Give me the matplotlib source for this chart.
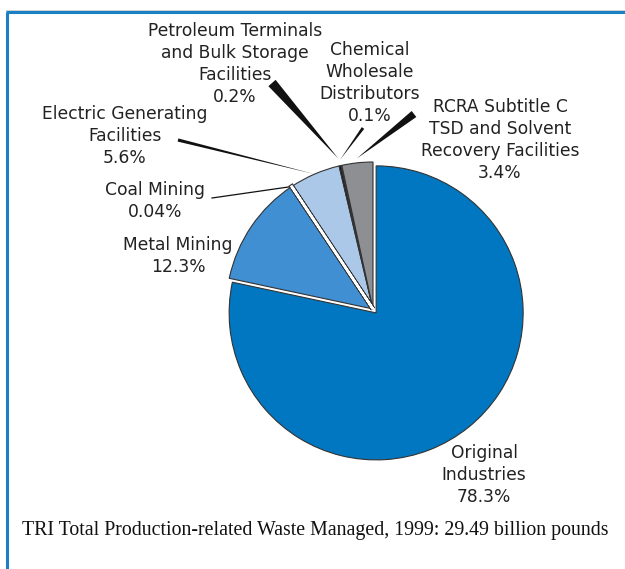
import numpy as np
import matplotlib.pyplot as plt
from matplotlib.patches import Polygon
import matplotlib.patheffects as pe

# データ
names = ['Original\nIndustries', 'Metal Mining', 'Coal Mining',
         'Electric Generating\nFacilities',
         'Petroleum Terminals\nand Bulk Storage\nFacilities',
         'Chemical\nWholesale\nDistributors',
         'RCRA Subtitle C\nTSD and Solvent\nRecovery Facilities']
share = [78.3, 12.3, 0.04, 5.6, 0.2, 0.1, 3.4]
caption = 'TRI Total Production-related Waste Managed, 1999: 29.49 billion pounds'

colors = ['#0077c0', '#3f8fd2', '#ffffff', '#abc8e8', '#111111', '#3a3a3a', '#8d8f93']

W, H = 625, 569
fig = plt.figure(figsize=(W / 100, H / 100), dpi=100)
ax = fig.add_axes([0, 0, 1, 1])

cx, cy, r = 373, H - 309, 147
wedges, _ = ax.pie(share, colors=colors, startangle=90, counterclock=False,
                   center=(cx, cy), radius=r, explode=[5, 0, 0, 0, 0, 0, 0],
                   wedgeprops=dict(edgecolor='#333333', linewidth=0.8))
ax.set_xlim(0, W)
ax.set_ylim(0, H)
ax.axis('off')

# 極小スライスは白い隙間として見せる
wedges[2].set_zorder(5)
wedges[2].set_path_effects([pe.Stroke(linewidth=3.4, foreground='#333333'),
                            pe.Stroke(linewidth=1.8, foreground='white')])

# ラベル位置 (px, 上から)
label_pos = [(484, 475), (178, 256), (155, 201), (125, 136),
             (235, 64), (370, 83), (500, 140)]
for name, v, (x, y) in zip(names, share, label_pos):
    ax.text(x, H - y, '{0}\n{1:g}%'.format(name, v), ha='center', va='center',
            fontsize=12.3, color='#222222', linespacing=1.27)

# 引き出し線 (くさび形)
def leader(w, end, half, rr=1.02):
    th = np.deg2rad((w.theta1 + w.theta2) / 2)
    tip = np.array(w.center) + w.r * rr * np.array([np.cos(th), np.sin(th)])
    end = np.array([end[0], H - end[1]], dtype=float)
    d = end - tip
    d /= np.hypot(*d)
    n = np.array([-d[1], d[0]])
    ax.add_patch(Polygon([tip, end + n * half, end - n * half], closed=True,
                         color='#111111', lw=0))

leader(wedges[3], (178, 140), 1.6, 1.0)
leader(wedges[4], (272, 83), 4.8, 1.05)
leader(wedges[5], (363, 128), 1.5, 1.04)
leader(wedges[6], (414, 114), 3.8, 1.03)

# Coal Mining は細い線
th = np.deg2rad((wedges[2].theta1 + wedges[2].theta2) / 2)
tip = np.array(wedges[2].center) + wedges[2].r * np.array([np.cos(th), np.sin(th)])
ax.plot([tip[0], 212], [tip[1], H - 198], color='#111111', lw=0.9)

# 枠線
ax.plot([7, 7], [0, H - 12], color='#1b7fc6', lw=2.2, solid_capstyle='butt')
ax.plot([6, W], [H - 12, H - 12], color='#1b7fc6', lw=2.2, solid_capstyle='butt')
ax.plot([6, W], [H - 9.5, H - 9.5], color='#c8c8c8', lw=0.6)

ax.text(22, H - 530, caption, ha='left', va='center', fontsize=14.3,
        family='Liberation Serif', color='#111111')

plt.savefig('out.png', dpi=100)
